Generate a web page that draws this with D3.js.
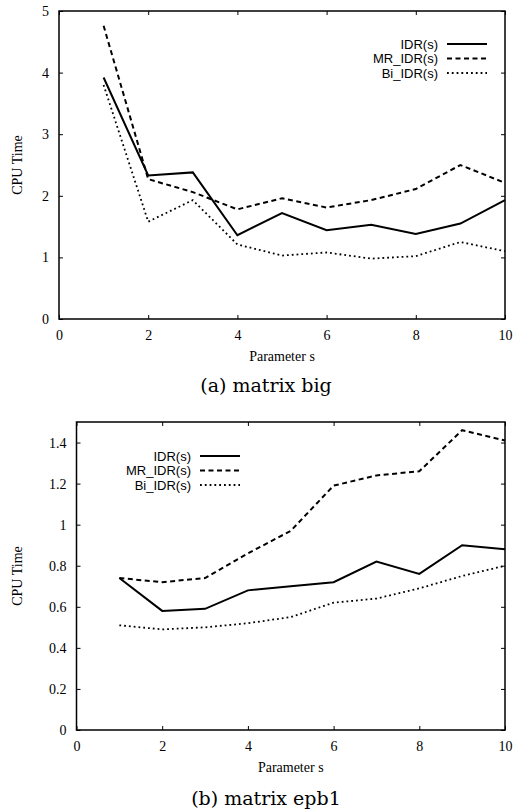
<!DOCTYPE html>
<html>
<head>
<meta charset="utf-8">
<script src="https://cdn.jsdelivr.net/npm/d3@7"></script>
<style>
  body { margin: 0; background: #fff; }
  svg { display: block; }
</style>
</head>
<body>
<div id="chart"></div>
<script>
// CPU time vs parameter s, two matrices

const sValues = [1, 2, 3, 4, 5, 6, 7, 8, 9, 10];
const seriesNames = ["IDR(s)", "MR_IDR(s)", "Bi_IDR(s)"];

// (a) matrix big
const bigIDR = [3.92, 2.33, 2.38, 1.36, 1.72, 1.44, 1.53, 1.38, 1.55, 1.93];
const bigMR  = [4.76, 2.27, 2.06, 1.78, 1.96, 1.81, 1.93, 2.11, 2.50, 2.21];
const bigBi  = [3.80, 1.58, 1.93, 1.21, 1.03, 1.08, 0.98, 1.02, 1.25, 1.10];
const bigYTicks = [0, 1, 2, 3, 4, 5];

// (b) matrix epb1
const epbIDR = [0.74, 0.58, 0.59, 0.68, 0.70, 0.72, 0.82, 0.76, 0.90, 0.88];
const epbMR  = [0.74, 0.72, 0.74, 0.86, 0.97, 1.19, 1.24, 1.26, 1.46, 1.41];
const epbBi  = [0.51, 0.49, 0.50, 0.52, 0.55, 0.62, 0.64, 0.69, 0.75, 0.80];
const epbYTicks = [0, 0.2, 0.4, 0.6, 0.8, 1, 1.2, 1.4];

const xTicks = [0, 2, 4, 6, 8, 10];
const captions = ["(a) matrix big", "(b) matrix epb1"];

const W = 515, H = 812;
const serif = "Liberation Serif, Times New Roman, serif";
const sans = "Liberation Sans, Arial, sans-serif";

// line styles: solid, dashed, dotted
const styles = [
  {width: 2, dash: null},
  {width: 2, dash: "5,3.5"},
  {width: 1.8, dash: "1.8,3"}
];

const svg = d3.select("#chart")
  .append("svg")
  .attr("width", W)
  .attr("height", H);

function drawPanel(opts) {
  const g = svg.append("g")
    .attr("transform", `translate(${opts.left}, ${opts.top})`);
  const width = opts.right - opts.left;
  const height = opts.bottom - opts.top;

  const x = d3.scaleLinear().domain([0, 10]).range([0, width]);
  const y = d3.scaleLinear().domain(opts.yDomain).range([height, 0]);

  // bottom axis, ticks pointing inward
  const xa = g.append("g")
    .attr("transform", `translate(0, ${height})`)
    .call(d3.axisBottom(x).tickValues(xTicks).tickSize(-4).tickPadding(11).tickFormat(d3.format("d")));
  // left axis
  const ya = g.append("g")
    .call(d3.axisLeft(y).tickValues(opts.yTicks).tickSize(-4).tickPadding(10).tickFormat(d => String(+d.toFixed(1))));
  // mirrored ticks on top and right
  const ta = g.append("g")
    .call(d3.axisTop(x).tickValues(xTicks).tickSize(-4).tickFormat(""));
  const ra = g.append("g")
    .attr("transform", `translate(${width}, 0)`)
    .call(d3.axisRight(y).tickValues(opts.yTicks).tickSize(-4).tickFormat(""));

  [xa, ya, ta, ra].forEach(a => {
    a.select(".domain").remove();
    a.attr("font-family", serif).attr("font-size", 14);
    a.selectAll("line").attr("stroke", "#000").attr("stroke-width", 1);
    a.selectAll("text").attr("fill", "#000");
  });

  // frame
  g.append("rect")
    .attr("x", 0).attr("y", 0)
    .attr("width", width).attr("height", height)
    .attr("fill", "none")
    .attr("stroke", "#000")
    .attr("stroke-width", 1.5);

  const line = d3.line()
    .x((d, i) => x(sValues[i]))
    .y(d => y(d));

  opts.series.forEach((vals, k) => {
    g.append("path")
      .datum(vals)
      .attr("d", line)
      .attr("fill", "none")
      .attr("stroke", "#000")
      .attr("stroke-width", styles[k].width)
      .attr("stroke-dasharray", styles[k].dash);
  });

  // legend
  seriesNames.forEach((name, k) => {
    const ly = opts.legY + k * 14.5;
    g.append("text")
      .attr("x", opts.legX - 9)
      .attr("y", ly)
      .attr("dy", "0.35em")
      .attr("text-anchor", "end")
      .attr("font-family", sans)
      .attr("font-size", 13)
      .text(name);
    g.append("line")
      .attr("x1", opts.legX)
      .attr("x2", opts.legX + 40)
      .attr("y1", ly).attr("y2", ly)
      .attr("stroke", "#000")
      .attr("stroke-width", styles[k].width)
      .attr("stroke-dasharray", styles[k].dash);
  });

  // axis titles
  g.append("text")
    .attr("x", width / 2)
    .attr("y", height + 42)
    .attr("text-anchor", "middle")
    .attr("font-family", serif)
    .attr("font-size", 14)
    .text("Parameter s");

  g.append("text")
    .attr("transform", `translate(${17 - opts.left}, ${height / 2}) rotate(-90)`)
    .attr("dy", "0.35em")
    .attr("text-anchor", "middle")
    .attr("font-family", serif)
    .attr("font-size", 14)
    .text("CPU Time");

  // caption
  svg.append("text")
    .attr("x", 266)
    .attr("y", opts.capY)
    .attr("text-anchor", "middle")
    .attr("font-family", "DejaVu Serif, serif")
    .attr("font-size", 19)
    .text(opts.caption);
}

drawPanel({
  left: 59, right: 505, top: 11, bottom: 319,
  yDomain: [0, 5], yTicks: bigYTicks,
  series: [bigIDR, bigMR, bigBi],
  legX: 388, legY: 33,
  caption: captions[0], capY: 392
});

drawPanel({
  left: 76.5, right: 505, top: 422, bottom: 730,
  yDomain: [0, 1.5], yTicks: epbYTicks,
  series: [epbIDR, epbMR, epbBi],
  legX: 123.5, legY: 34,
  caption: captions[1], capY: 805
});
</script>
</body>
</html>
